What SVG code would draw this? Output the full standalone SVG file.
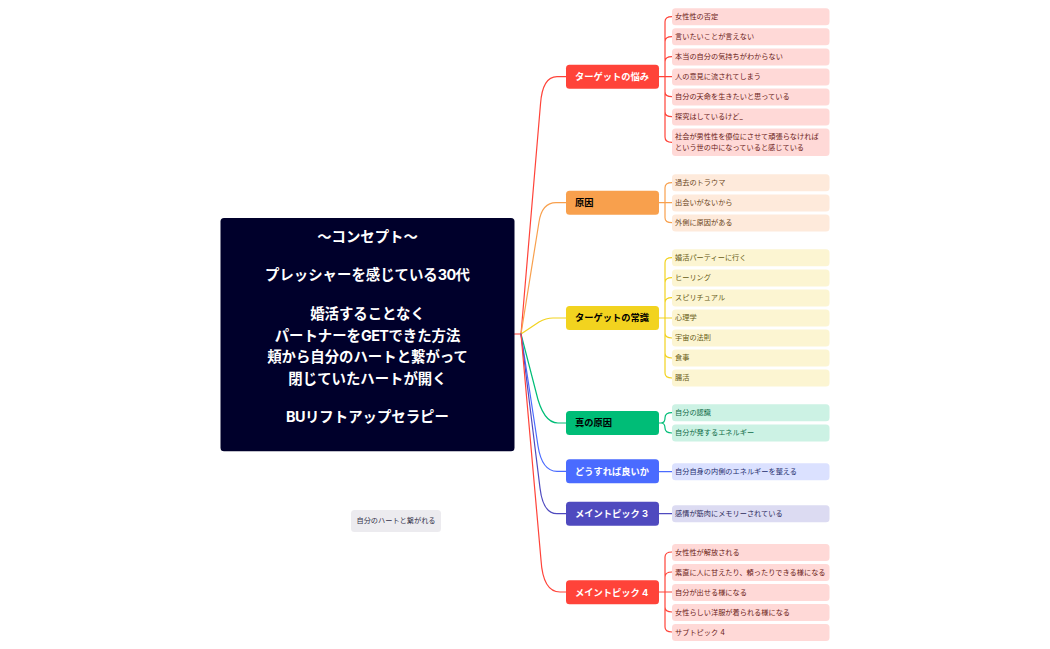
<svg xmlns="http://www.w3.org/2000/svg" width="1050" height="649" viewBox="0 0 1050 649">
<style>
text{font-family:"Inter","Noto Sans CJK JP","Noto Sans",sans-serif}
.root{font-size:14.4px;font-weight:700;fill:#fff;text-anchor:middle}
.l{letter-spacing:-.6px}
.t{font-size:9.25px;font-weight:700}
.s{font-size:7.2px;dominant-baseline:auto}
.c{fill:none;stroke-width:1.2;stroke-linecap:round}
.red{stroke:#ff4339}.org{stroke:#f8a04d}.yel{stroke:#f2d31f}.grn{stroke:#00bd77}.blu{stroke:#4a6bff}.ind{stroke:#4f4abf}
.sr{fill:#ffd9d7}.so{fill:#feeadb}.sy{fill:#fcf5d2}.sg{fill:#ccf2e4}.sb{fill:#dbe1ff}.si{fill:#dcdbf2}
.tr{fill:#6b1c18}.to{fill:#6b4520}.ty{fill:#665a12}.tg{fill:#0f6b48}.tb{fill:#252f6e}.ti{fill:#2d2b5c}
</style>
<g id="connectors">
<path class="c red" d="M514.5 334H521"/>
<path class="c red" d="M521 334L540.5 104Q542.5 76.7 557 76.7H566"/>
<path class="c org" d="M521 334L539 222Q542 202.7 556 202.7H566"/>
<path class="c yel" d="M521 334L539 322Q546 318 553 318H566"/>
<path class="c grn" d="M521 334L536 392Q543 423 558 423H566"/>
<path class="c blu" d="M521 334L538 446Q542 471.3 557 471.3H566"/>
<path class="c ind" d="M521 334L540 488Q543 513.7 557 513.7H566"/>
<path class="c red" d="M521 334L541 560Q543 592 560 592H566"/>
<path class="c red" d="M659 76.7H665M665 21.7Q665 16.7 672 16.7M665 41.7Q665 36.7 672 36.7M665 61.7Q665 56.7 672 56.7M672 76.7H665M665 91.7Q665 96.7 672 96.7M665 111.7Q665 116.7 672 116.7M665 137Q665 142.3 672 142.3M665 21.7V137"/>
<path class="c org" d="M659 202.7H672M665 187.7Q665 182.7 672 182.7M665 217.7Q665 222.7 672 222.7M665 187.7V217.7"/>
<path class="c yel" d="M659 318H672M665 262.7Q665 257.7 672 257.7M665 282.7Q665 277.7 672 277.7M665 302.7Q665 297.7 672 297.7M665 333Q665 338 672 338M665 353Q665 358 672 358M665 373Q665 378 672 378M665 262.7V373"/>
<path class="c grn" d="M659 423H661Q665 423 665 418V417.7Q665 412.7 672 412.7M661 423Q665 423 665 428Q665 433 672 433"/>
<path class="c blu" d="M659 471.7H672"/>
<path class="c ind" d="M659 513.7H672"/>
<path class="c red" d="M659 592H672M665 557Q665 552 672 552M665 577Q665 572 672 572M665 607Q665 612 672 612M665 627Q665 632 672 632M665 557V627"/>
</g>
<g id="root"><rect x="220.5" y="218" width="294" height="233.3" rx="3.5" fill="#00002b"/>
<text class="root" x="367.5" y="241.5">〜コンセプト〜</text>
<text class="root" x="367.5" y="280">プレッシャーを感じている<tspan class="l">30</tspan>代</text>
<text class="root" x="367.5" y="319">婚活することなく</text>
<text class="root" x="367.5" y="340.5">パートナーを<tspan class="l">GET</tspan>できた方法</text>
<text class="root" x="367.5" y="362">頬から自分のハートと繋がって</text>
<text class="root" x="367.5" y="383.5">閉じていたハートが開く</text>
<text class="root" x="367.5" y="422"><tspan class="l">BU</tspan>リフトアップセラピー</text></g>
<g id="float"><rect x="351" y="510" width="90" height="22" rx="3.5" fill="#ecebef"/><text class="s" x="396" y="523.4" text-anchor="middle" fill="#33324a">自分のハートと繋がれる</text></g>
<g id="t1"><rect x="566" y="64.7" width="93" height="24" rx="3.5" fill="#ff4339"/><text class="t" x="575" y="79.9" fill="#fff">ターゲットの悩み</text></g>
<g id="t2"><rect x="566" y="190.7" width="93" height="24" rx="3.5" fill="#f8a04d"/><text class="t" x="575" y="205.9" fill="#000">原因</text></g>
<g id="t3"><rect x="566" y="306" width="93" height="24" rx="3.5" fill="#f2d31f"/><text class="t" x="575" y="321.2" fill="#000">ターゲットの常識</text></g>
<g id="t4"><rect x="566" y="411" width="93" height="24" rx="3.5" fill="#00bd77"/><text class="t" x="575" y="426.2" fill="#000">真の原因</text></g>
<g id="t5"><rect x="566" y="459.3" width="93" height="24" rx="3.5" fill="#4a6bff"/><text class="t" x="575" y="474.5" fill="#fff">どうすれば良いか</text></g>
<g id="t6"><rect x="566" y="501.7" width="93" height="24" rx="3.5" fill="#4f4abf"/><text class="t" x="575" y="516.9" fill="#fff">メイントピック 3</text></g>
<g id="t7"><rect x="566" y="580.3" width="93" height="24" rx="3.5" fill="#ff4339"/><text class="t" x="575" y="595.5" fill="#fff">メイントピック 4</text></g>
<g id="s1"><rect class="sr" x="672" y="8.3" width="157.5" height="17" rx="3.5"/><text class="s tr" x="675" y="18.8">女性性の否定</text></g>
<g id="s2"><rect class="sr" x="672" y="28.3" width="157.5" height="17" rx="3.5"/><text class="s tr" x="675" y="38.8">言いたいことが言えない</text></g>
<g id="s3"><rect class="sr" x="672" y="48.4" width="157.5" height="17" rx="3.5"/><text class="s tr" x="675" y="58.9">本当の自分の気持ちがわからない</text></g>
<g id="s4"><rect class="sr" x="672" y="68.4" width="157.5" height="17" rx="3.5"/><text class="s tr" x="675" y="78.9">人の意見に流されてしまう</text></g>
<g id="s5"><rect class="sr" x="672" y="88.4" width="157.5" height="17" rx="3.5"/><text class="s tr" x="675" y="98.9">自分の天命を生きたいと思っている</text></g>
<g id="s6"><rect class="sr" x="672" y="108.4" width="157.5" height="17" rx="3.5"/><text class="s tr" x="675" y="118.9">探究はしているけど_</text></g>
<g id="s7"><rect class="sr" x="672" y="128.4" width="157.5" height="27.6" rx="3.5"/><text class="s tr" x="675" y="138.9">社会が男性性を優位にさせて頑張らなければ</text><text class="s tr" x="675" y="149.5">という世の中になっていると感じている</text></g>
<g id="s8"><rect class="so" x="672" y="174.3" width="157.5" height="17" rx="3.5"/><text class="s to" x="675" y="184.8">過去のトラウマ</text></g>
<g id="s9"><rect class="so" x="672" y="194.4" width="157.5" height="17" rx="3.5"/><text class="s to" x="675" y="204.9">出会いがないから</text></g>
<g id="s10"><rect class="so" x="672" y="214.4" width="157.5" height="17" rx="3.5"/><text class="s to" x="675" y="224.9">外側に原因がある</text></g>
<g id="s11"><rect class="sy" x="672" y="249.3" width="157.5" height="17" rx="3.5"/><text class="s ty" x="675" y="259.8">婚活パーティーに行く</text></g>
<g id="s12"><rect class="sy" x="672" y="269.4" width="157.5" height="17" rx="3.5"/><text class="s ty" x="675" y="279.9">ヒーリング</text></g>
<g id="s13"><rect class="sy" x="672" y="289.4" width="157.5" height="17" rx="3.5"/><text class="s ty" x="675" y="299.9">スピリチュアル</text></g>
<g id="s14"><rect class="sy" x="672" y="309.5" width="157.5" height="17" rx="3.5"/><text class="s ty" x="675" y="320">心理学</text></g>
<g id="s15"><rect class="sy" x="672" y="329.5" width="157.5" height="17" rx="3.5"/><text class="s ty" x="675" y="340">宇宙の法則</text></g>
<g id="s16"><rect class="sy" x="672" y="349.6" width="157.5" height="17" rx="3.5"/><text class="s ty" x="675" y="360.1">食事</text></g>
<g id="s17"><rect class="sy" x="672" y="369.6" width="157.5" height="17" rx="3.5"/><text class="s ty" x="675" y="380.1">腸活</text></g>
<g id="s18"><rect class="sg" x="672" y="404.3" width="157.5" height="17" rx="3.5"/><text class="s tg" x="675" y="414.8">自分の認識</text></g>
<g id="s19"><rect class="sg" x="672" y="424.5" width="157.5" height="17" rx="3.5"/><text class="s tg" x="675" y="435">自分が発するエネルギー</text></g>
<g id="s20"><rect class="sb" x="672" y="463.3" width="157.5" height="17" rx="3.5"/><text class="s tb" x="675" y="473.8">自分自身の内側のエネルギーを整える</text></g>
<g id="s21"><rect class="si" x="672" y="505.3" width="157.5" height="17" rx="3.5"/><text class="s ti" x="675" y="515.8">感情が筋肉にメモリーされている</text></g>
<g id="s22"><rect class="sr" x="672" y="544" width="157.5" height="17" rx="3.5"/><text class="s tr" x="675" y="554.5">女性性が解放される</text></g>
<g id="s23"><rect class="sr" x="672" y="564" width="157.5" height="17" rx="3.5"/><text class="s tr" x="675" y="574.5">素直に人に甘えたり、頼ったりできる様になる</text></g>
<g id="s24"><rect class="sr" x="672" y="584" width="157.5" height="17" rx="3.5"/><text class="s tr" x="675" y="594.5">自分が出せる様になる</text></g>
<g id="s25"><rect class="sr" x="672" y="604" width="157.5" height="17" rx="3.5"/><text class="s tr" x="675" y="614.5">女性らしい洋服が着られる様になる</text></g>
<g id="s26"><rect class="sr" x="672" y="624" width="157.5" height="17" rx="3.5"/><text class="s tr" x="675" y="634.5">サブトピック 4</text></g>
</svg>
